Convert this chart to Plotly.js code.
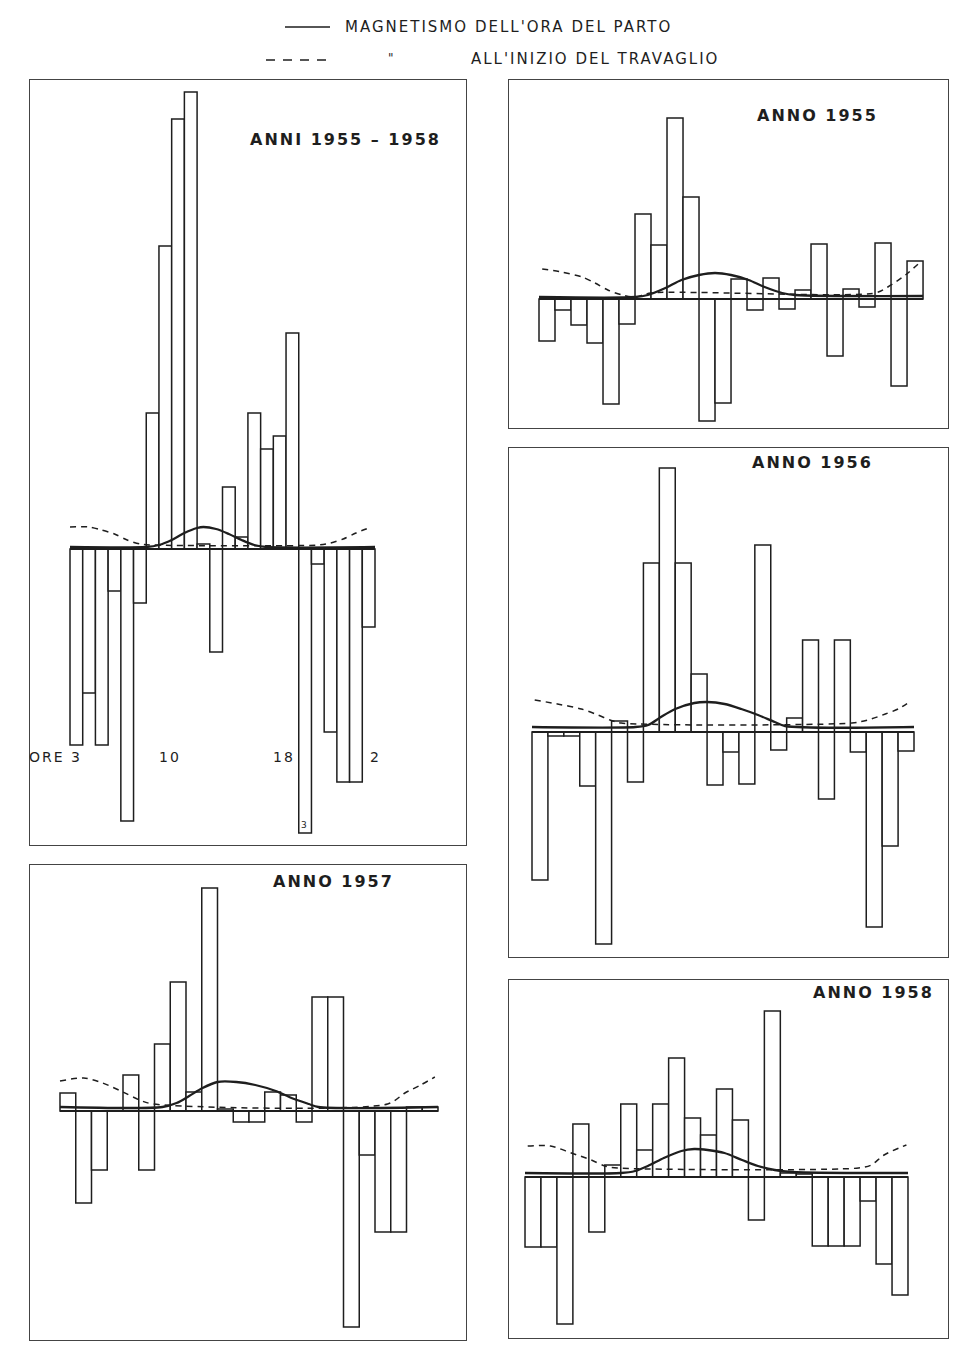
<!DOCTYPE html>
<html>
<head>
<meta charset="utf-8">
<script src="https://cdn.plot.ly/plotly-3.0.1.min.js"></script>
<style>
  html, body { margin: 0; padding: 0; background: #fff; }
  #chart { width: 966px; height: 1357px; }
  .annotation-text { letter-spacing: 2px; }
</style>
</head>
<body>
<div id="chart"></div>
<script>
// ---------------- DATA ----------------
// hours of the day, one bar each, from 3 a.m. to 2 a.m.
const hours = [3, 4, 5, 6, 7, 8, 9, 10, 11, 12, 13, 14, 15, 16, 17, 18, 19, 20, 21, 22, 23, 0, 1, 2];

const panelTitles = ['ANNI 1955 – 1958', 'ANNO 1955', 'ANNO 1956', 'ANNO 1957', 'ANNO 1958'];

// bar heights (deviations, arbitrary units) per hour
const bars_1955_1958 = [-196, -144, -196, -42, -272, -54, 136, 303, 430, 457, 5, -103, 62, 12, 136, 100, 113, 216, -284, -15, -183, -233, -233, -78];
const bars_1955 = [-42, -11, -26, -44, -105, -25, 85, 54, 181, 102, -122, -104, 20, -11, 21, -10, 9, 55, -57, 10, -8, 56, -87, 38];
const bars_1956 = [-148, -4, -4, -54, -212, 11, -50, 169, 264, 169, 58, -53, -20, -52, 187, -18, 14, 92, -67, 92, -20, -195, -114, -19];
const bars_1957 = [18, -92, -59, 0, 36, -59, 67, 129, 19, 223, 2, -11, -11, 19, 16, -11, 114, 114, -216, -44, -121, -121, 4, 4];
const bars_1958 = [-70, -70, -147, 53, -55, 12, 73, 27, 73, 119, 59, 42, 88, 57, -43, 166, 4, 3, -69, -69, -69, -24, -87, -118];

// solid curve: magnetism at the hour of birth (position in hour slots, value)
const partoX_1955_1958 = [-0.5, 5.5, 6.5, 7.5, 8.5, 9.5, 10, 11, 12, 13, 14, 15, 23.5];
const partoY_1955_1958 = [2, 2, 4, 9, 16, 21, 22, 20, 15, 9, 4, 2, 2];
const partoX_1955 = [-0.5, 5.5, 6.3, 7.4, 8.4, 9.5, 10.5, 11.5, 12.6, 13.6, 14.7, 15.5, 23.5];
const partoY_1955 = [2, 2, 4, 11, 19, 24, 26, 24, 19, 12, 6, 4, 3];
const partoX_1956 = [-0.5, 6, 6.8, 7.6, 8.5, 9.7, 10.5, 11.6, 12.65, 13.7, 14.75, 15.4, 23.5];
const partoY_1956 = [5, 5, 7, 15, 23, 29, 30, 28, 23, 17, 10, 6, 5];
const partoX_1957 = [-0.5, 6, 6.9, 7.7, 8.55, 9.5, 10.7, 11.9, 13.2, 14.2, 15.3, 15.9, 23.5];
const partoY_1957 = [4, 4, 8, 15, 23, 29, 29, 26, 20, 13, 7, 4, 4];
const partoX_1958 = [-0.5, 5.5, 6.4, 7.2, 8.2, 9.3, 10.1, 10.95, 12, 13.1, 14.1, 15.15, 16.2, 23.5];
const partoY_1958 = [4, 4, 6, 11, 19, 26, 28, 27, 24, 17, 11, 7, 5, 4];

// dashed curve: magnetism at the onset of labour
const travX_1955_1958 = [-0.5, 1, 2, 3, 4, 5, 6, 19, 20, 21, 22, 23];
const travY_1955_1958 = [22, 22, 19, 15, 9, 5, 4, 4, 6, 10, 16, 21];
const travX_1955 = [-0.3, 0.9, 2.2, 3, 3.8, 4.7, 5.5, 6.5, 20.5, 21.3, 22.4, 23.4];
const travY_1955 = [30, 27, 22, 16, 9, 4, 2, 6, 6, 12, 24, 38];
const travX_1956 = [-0.33, 1.1, 2.6, 3.65, 4.4, 5.1, 19.6, 20.6, 21.7, 22.5, 23.3];
const travY_1956 = [32, 28, 23, 17, 12, 9, 9, 12, 18, 23, 31];
const travX_1957 = [-0.5, 1, 2.2, 3.5, 4.55, 5.4, 20.3, 21.4, 22.4, 23.3];
const travY_1957 = [30, 33, 28, 19, 11, 7, 7, 18, 26, 34];
const travX_1958 = [-0.33, 1.1, 2.4, 3.65, 4.5, 5.3, 20.4, 21.2, 22, 23.4];
const travY_1958 = [31, 31, 24, 17, 11, 9, 9, 12, 22, 32];

// hour labels written under the first panel
const hourLabels = ['ORE 3', '10', '18', '2'];
const hourLabelHours = [3, 10, 18, 2];

const legendLabels = ["MAGNETISMO DELL'ORA DEL PARTO", "ALL'INIZIO DEL TRAVAGLIO"];

// ---------------- LAYOUT / STYLE ----------------
const W = 966, H = 1357;
const px = x => x / W;
const py = y => 1 - y / H;
const INK = '#1e1e1e';

// panel frames in page pixels and axis ranges
const panels = [
  { bars: bars_1955_1958, pX: partoX_1955_1958, pY: partoY_1955_1958, tX: travX_1955_1958, tY: travY_1955_1958,
    frame: [30, 80, 466, 845], xr: [-3.648, 30.661], yr: [-296, 469], title: [345, 140] },
  { bars: bars_1955, pX: partoX_1955, pY: partoY_1955, tX: travX_1955, tY: travY_1955,
    frame: [509, 80, 948, 428], xr: [-2.375, 25.06], yr: [-129, 219], title: [817, 115] },
  { bars: bars_1956, pX: partoX_1956, pY: partoY_1956, tX: travX_1956, tY: travY_1956,
    frame: [509, 448, 948, 957], xr: [-1.945, 25.636], yr: [-225, 284], title: [812, 463] },
  { bars: bars_1957, pX: partoX_1957, pY: partoY_1957, tX: travX_1957, tY: travY_1957,
    frame: [30, 865, 466, 1340], xr: [-2.405, 25.278], yr: [-229, 246], title: [333, 882] },
  { bars: bars_1958, pX: partoX_1958, pY: partoY_1958, tX: travX_1958, tY: travY_1958,
    frame: [509, 980, 948, 1338], xr: [-1.503, 26.007], yr: [-161, 197], title: [873, 992] }
];

const idx = hours.map((h, i) => i);
const traces = [];
const layout = {
  width: W, height: H,
  margin: { l: 0, r: 0, t: 0, b: 0 },
  paper_bgcolor: '#fff', plot_bgcolor: '#fff',
  showlegend: false, bargap: 0,
  font: { family: 'DejaVu Sans, sans-serif', color: INK },
  annotations: [], shapes: []
};

panels.forEach((p, k) => {
  const n = k + 1;
  const xa = n === 1 ? 'x' : 'x' + n;
  const ya = n === 1 ? 'y' : 'y' + n;
  const [l, t, r, b] = p.frame;
  const axBase = { showgrid: false, zeroline: false, showticklabels: false, ticks: '',
                   showline: true, mirror: true, linecolor: '#444', linewidth: 1.4, fixedrange: true };
  layout[n === 1 ? 'xaxis' : 'xaxis' + n] = Object.assign({}, axBase, { domain: [px(l), px(r)], range: p.xr, anchor: ya });
  layout[n === 1 ? 'yaxis' : 'yaxis' + n] = Object.assign({}, axBase, { domain: [py(b), py(t)], range: p.yr, anchor: xa });

  traces.push({ type: 'bar', x: idx, y: p.bars, width: 1, xaxis: xa, yaxis: ya,
    marker: { color: 'rgba(255,255,255,1)', line: { color: INK, width: 1.5 } }, hoverinfo: 'skip' });
  traces.push({ type: 'scatter', mode: 'lines', x: [-0.5, hours.length - 0.5], y: [0, 0], xaxis: xa, yaxis: ya,
    line: { color: INK, width: 1.9 }, hoverinfo: 'skip' });
  traces.push({ type: 'scatter', mode: 'lines', x: p.tX, y: p.tY, xaxis: xa, yaxis: ya,
    line: { color: INK, width: 1.5, dash: '6px,5px', shape: 'spline', smoothing: 0.8 }, hoverinfo: 'skip' });
  traces.push({ type: 'scatter', mode: 'lines', x: p.pX, y: p.pY, xaxis: xa, yaxis: ya,
    line: { color: INK, width: 2.3, shape: 'spline', smoothing: 0.8 }, hoverinfo: 'skip' });

  layout.annotations.push({ xref: 'paper', yref: 'paper', x: px(p.title[0]), y: py(p.title[1]),
    xanchor: 'center', yanchor: 'middle', showarrow: false, text: '<b>' + panelTitles[k] + '</b>',
    font: { size: 16, color: INK } });
});

// hour labels under the first panel (on its own axes)
const hourLabelShift = [0.6, 0.4, 1.3, 0.55];
hourLabels.forEach((txt, i) => {
  const pos = hours.indexOf(hourLabelHours[i]) + hourLabelShift[i];
  layout.annotations.push({ xref: 'x', yref: 'paper', x: pos, y: py(757),
    xanchor: i === 0 ? 'right' : 'center', yanchor: 'middle', showarrow: false, text: txt,
    font: { size: 14, color: INK } });
});
// small mark at the foot of the truncated 19h bar
layout.annotations.push({ xref: 'x', yref: 'y', x: hours.indexOf(21), y: bars_1955_1958[18] + 8,
  xanchor: 'center', yanchor: 'middle', showarrow: false, text: '3', font: { size: 9, color: INK } });

// legend drawn at the top of the page
layout.shapes.push({ type: 'line', xref: 'paper', yref: 'paper', x0: px(285), x1: px(330), y0: py(27), y1: py(27),
  line: { color: INK, width: 1.6 } });
layout.shapes.push({ type: 'line', xref: 'paper', yref: 'paper', x0: px(266), x1: px(332), y0: py(60), y1: py(60),
  line: { color: INK, width: 1.6, dash: '9px,8px' } });
layout.annotations.push({ xref: 'paper', yref: 'paper', x: px(343), y: py(27), xanchor: 'left', yanchor: 'middle',
  showarrow: false, text: legendLabels[0], font: { size: 15, color: INK } });
layout.annotations.push({ xref: 'paper', yref: 'paper', x: px(392), y: py(58), xanchor: 'center', yanchor: 'middle',
  showarrow: false, text: '"', font: { size: 12, color: INK } });
layout.annotations.push({ xref: 'paper', yref: 'paper', x: px(469), y: py(59), xanchor: 'left', yanchor: 'middle',
  showarrow: false, text: legendLabels[1], font: { size: 15, color: INK } });

Plotly.newPlot('chart', traces, layout, { displayModeBar: false, staticPlot: true });
</script>
</body>
</html>
